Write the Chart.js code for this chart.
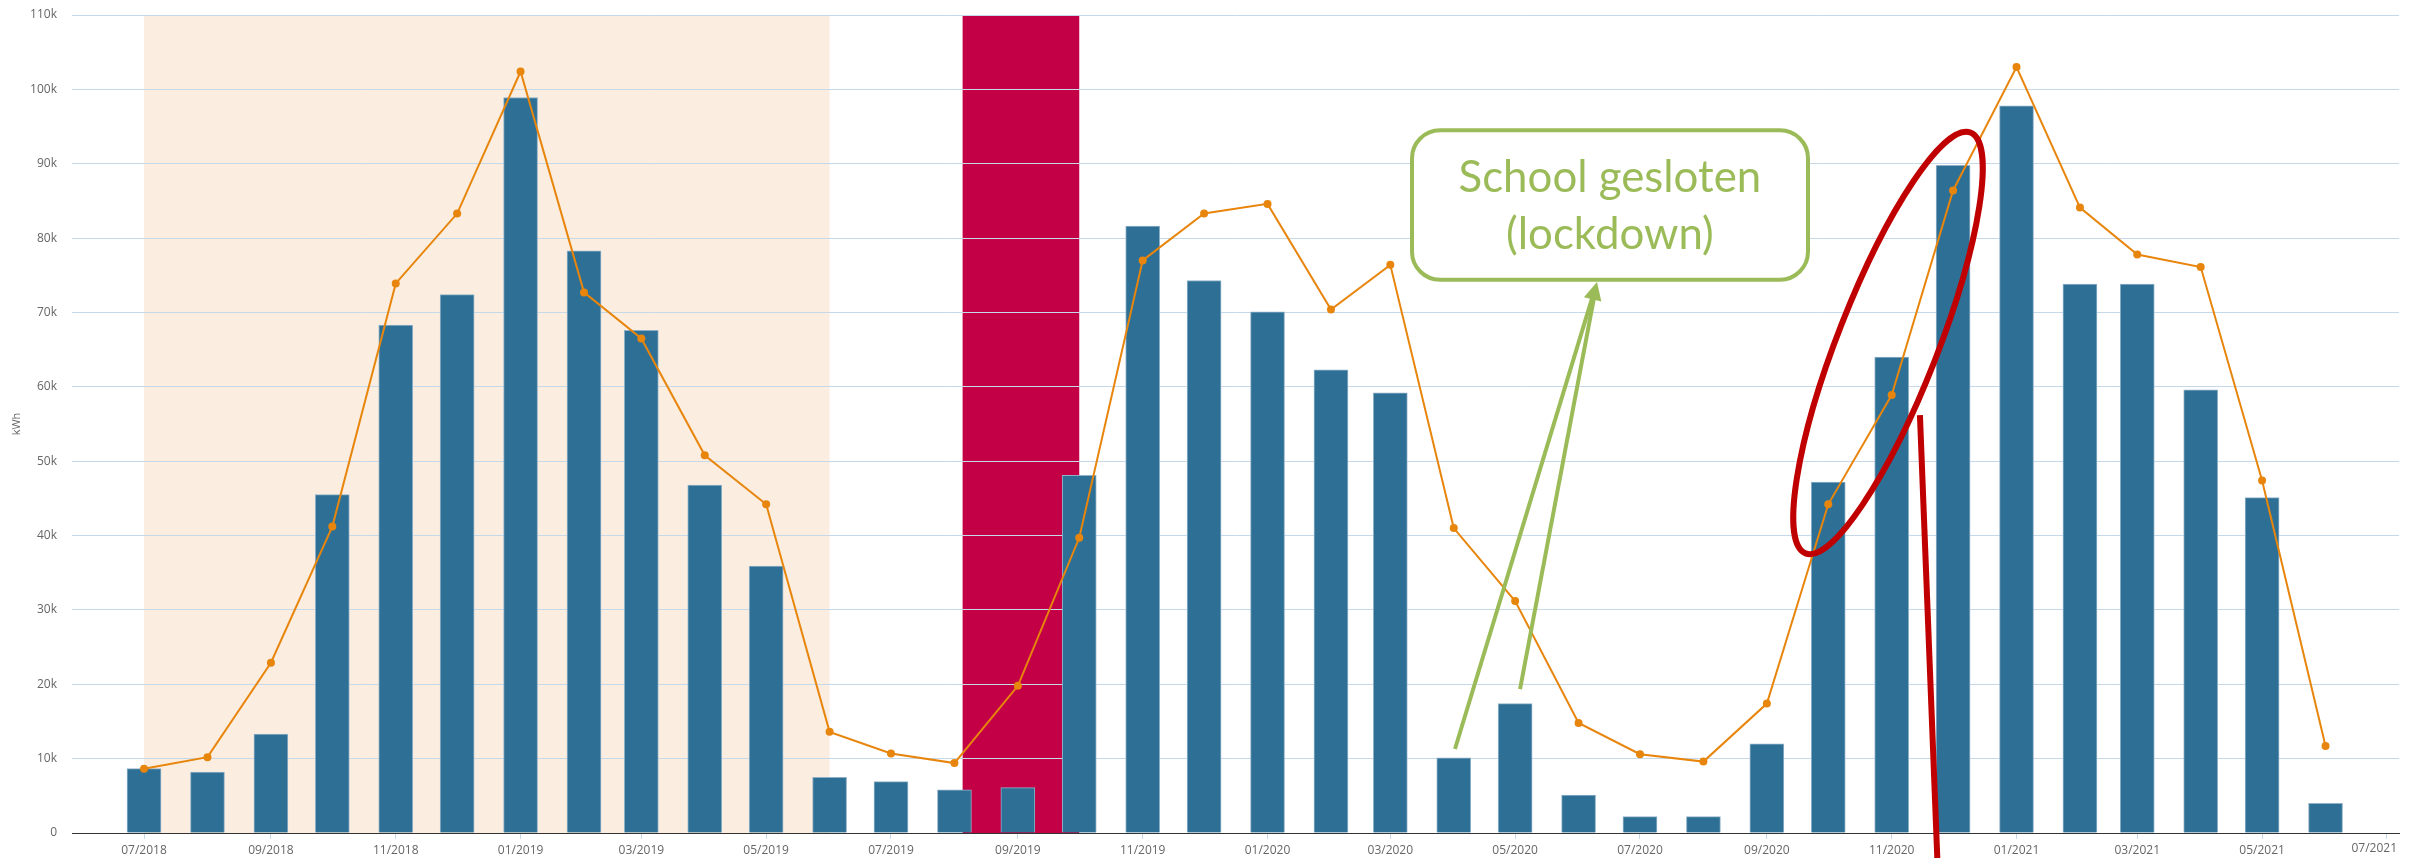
<!DOCTYPE html>
<html>
<head>
<meta charset="utf-8">
<script src="https://cdn.jsdelivr.net/npm/chart.js@4.4.0/dist/chart.umd.min.js"></script>
<style>
  html, body { margin: 0; padding: 0; background: #fff; }
  #wrap { width: 2413px; height: 858px; position: relative; }
</style>
</head>
<body>
<div id="wrap"><canvas id="chart"></canvas></div>
<script>
// monthly consumption, bars = this period, line = comparison
const months = [
  "07/2018", "08/2018", "09/2018", "10/2018", "11/2018", "12/2018",
  "01/2019", "02/2019", "03/2019", "04/2019", "05/2019", "06/2019",
  "07/2019", "08/2019", "09/2019", "10/2019", "11/2019", "12/2019",
  "01/2020", "02/2020", "03/2020", "04/2020", "05/2020", "06/2020",
  "07/2020", "08/2020", "09/2020", "10/2020", "11/2020", "12/2020",
  "01/2021", "02/2021", "03/2021", "04/2021", "05/2021", "06/2021"
];
const usage = [
  8650, 8200, 13300, 45500, 68300, 72400,
  98900, 78300, 67600, 46800, 35900, 7500,
  6900, 5800, 6100, 48100, 81600, 74300,
  70100, 62300, 59200, 10100, 17400, 5100,
  2200, 2200, 12000, 47200, 64000, 89800,
  97800, 73800, 73800, 59600, 45100, 4000
];
const expected = [
  8650, 10200, 22900, 41200, 73900, 83300,
  102400, 72700, 66500, 50800, 44200, 13600,
  10700, 9400, 19800, 39700, 77000, 83300,
  84600, 70400, 76400, 41000, 31200, 14800,
  10600, 9600, 17400, 44200, 58900, 86400,
  103000, 84100, 77800, 76100, 47400, 11700
];
const tickLabels = [
  "07/2018", "09/2018", "11/2018", "01/2019", "03/2019", "05/2019",
  "07/2019", "09/2019", "11/2019", "01/2020", "03/2020", "05/2020",
  "07/2020", "09/2020", "11/2020", "01/2021", "03/2021", "05/2021", "07/2021"
];
// shaded periods [from, to]
const heatingSeason = ["2018-07-01", "2019-06-01"];
const holiday = ["2019-08-05", "2019-10-01"];

const start = Date.UTC(2018, 6, 1);
const DAY = 86400000;
function monthDay(label) {
  const [m, y] = label.split("/");
  return (Date.UTC(+y, +m - 1, 1) - start) / DAY;
}
function dateDay(s) {
  const [y, m, d] = s.split("-");
  return (Date.UTC(+y, +m - 1, +d) - start) / DAY;
}

const barPoints = months.map((m, i) => ({ x: monthDay(m), y: usage[i] }));
const linePoints = months.map((m, i) => ({ x: monthDay(m), y: expected[i] }));
const tickDays = tickLabels.map(monthDay);
const lastTick = tickLabels.length - 1;

const shading = {
  id: "shading",
  beforeDraw(chart) {
    const { ctx, chartArea, scales } = chart;
    const x = scales.x;
    ctx.save();
    ctx.fillStyle = "#fbeee0";
    let a = x.getPixelForValue(dateDay(heatingSeason[0]));
    let b = x.getPixelForValue(dateDay(heatingSeason[1]));
    ctx.fillRect(a, chartArea.top, b - a, chartArea.bottom - chartArea.top);
    ctx.fillStyle = "#c30045";
    a = x.getPixelForValue(dateDay(holiday[0]));
    b = x.getPixelForValue(dateDay(holiday[1]));
    ctx.fillRect(a, chartArea.top, b - a, chartArea.bottom - chartArea.top);
    ctx.restore();
  }
};

// hand drawn notes on top of the chart (in days / kWh)
const notes = {
  id: "notes",
  afterDraw(chart) {
    const { ctx, scales } = chart;
    const px = (d) => scales.x.getPixelForValue(d);
    const py = (v) => scales.y.getPixelForValue(v);
    const green = "#9bbb59";
    const red = "#c00000";
    ctx.save();

    // last axis label, kept inside the canvas
    ctx.fillStyle = "#666";
    ctx.font = "12px 'Open Sans', sans-serif";
    ctx.textAlign = "right";
    ctx.textBaseline = "top";
    ctx.fillText(tickLabels[lastTick], chart.width - 16, scales.x.top + 10);

    // green box
    const x0 = px(619.6), x1 = px(813.1), y0 = py(94500), y1 = py(74400);
    ctx.strokeStyle = green;
    ctx.lineWidth = 4;
    ctx.fillStyle = "#fff";
    ctx.beginPath();
    ctx.roundRect(x0, y0, x1 - x0, y1 - y0, 28);
    ctx.fill();
    ctx.stroke();

    ctx.fillStyle = green;
    ctx.textAlign = "center";
    ctx.textBaseline = "alphabetic";
    ctx.font = "40px Lato";
    const w = ctx.measureText("School gesloten").width;
    const size = 40 * 303 / w;
    ctx.font = size.toFixed(1) + "px Lato";
    const cx = px(716.3);
    ctx.fillText("School gesloten", cx, py(86200));
    ctx.fillText("(lockdown)", cx, py(78500));

    // arrows
    const tip = [px(710.0), py(74100)];
    const tails = [[px(640.6), py(11300)], [px(672.4), py(19360)]];
    ctx.lineWidth = 4;
    tails.forEach(([tx, ty]) => {
      const ang = Math.atan2(tip[1] - ty, tip[0] - tx);
      ctx.beginPath();
      ctx.moveTo(tx, ty);
      ctx.lineTo(tip[0] - Math.cos(ang) * 14, tip[1] - Math.sin(ang) * 14);
      ctx.stroke();
    });
    const mx = (tails[0][0] + tails[1][0]) / 2, my = (tails[0][1] + tails[1][1]) / 2;
    const ang = Math.atan2(tip[1] - my, tip[0] - mx);
    ctx.beginPath();
    ctx.moveTo(tip[0], tip[1]);
    ctx.lineTo(tip[0] - Math.cos(ang) * 18 + Math.sin(ang) * 9, tip[1] - Math.sin(ang) * 18 - Math.cos(ang) * 9);
    ctx.lineTo(tip[0] - Math.cos(ang) * 18 - Math.sin(ang) * 9, tip[1] - Math.sin(ang) * 18 + Math.cos(ang) * 9);
    ctx.closePath();
    ctx.fill();

    // red ellipse and line
    ctx.strokeStyle = red;
    ctx.lineWidth = 6;
    ctx.beginPath();
    ctx.ellipse(px(852.2), py(65900), 226, 50, -68.6 * Math.PI / 180, 0, Math.PI * 2);
    ctx.stroke();
    ctx.beginPath();
    ctx.moveTo(px(867.8), py(56200));
    ctx.lineTo(px(876.3), py(-3400));
    ctx.stroke();

    ctx.restore();
  }
};

Chart.defaults.font.family = "'Open Sans', sans-serif";
Chart.defaults.font.size = 12;
Chart.defaults.color = "#666";

new Chart(document.getElementById("chart"), {
  type: "bar",
  data: {
    datasets: [
      {
        type: "line",
        label: "verwacht",
        data: linePoints,
        borderColor: "#e8850c",
        backgroundColor: "#e8850c",
        borderWidth: 2,
        pointRadius: 4,
        pointBorderWidth: 0,
        tension: 0,
        order: 0
      },
      {
        label: "kWh",
        data: barPoints,
        backgroundColor: "#2e7095",
        borderColor: "#8fb0c8",
        borderWidth: 1,
        barThickness: 34,
        order: 1
      }
    ]
  },
  options: {
    responsive: true,
    maintainAspectRatio: false,
    animation: false,
    layout: { padding: { top: 15, right: 14, left: 0, bottom: 0 } },
    plugins: { legend: { display: false }, tooltip: { enabled: false } },
    scales: {
      x: {
        type: "linear",
        offset: false,
        min: -35.2,
        max: 1101.9,
        grid: { offset: false, drawOnChartArea: false, color: "#c6d9e8", tickLength: 6 },
        border: { display: true, color: "#333", width: 1 },
        ticks: {
          padding: 4,
          maxRotation: 0,
          autoSkip: false,
          callback: (v, i) => (i === lastTick ? "" : tickLabels[i])
        },
        afterBuildTicks: (scale) => {
          scale.ticks = tickDays.map((d) => ({ value: d }));
        },
        afterFit: (scale) => {
          scale.height = 25;
          scale.paddingLeft = 0;
          scale.paddingRight = 0;
        }
      },
      y: {
        min: 0,
        max: 110000,
        title: { display: true, text: "kWh", font: { size: 11 }, padding: { top: 10, bottom: 0 } },
        grid: { color: "#c6d9e8", drawTicks: false },
        border: { display: false },
        ticks: {
          stepSize: 10000,
          padding: 15,
          callback: (v) => (v === 0 ? "0" : v / 1000 + "k")
        },
        afterFit: (scale) => {
          scale.width = 72;
          scale.paddingTop = 0;
          scale.paddingBottom = 0;
        }
      }
    }
  },
  plugins: [shading, notes]
});
</script>
</body>
</html>
